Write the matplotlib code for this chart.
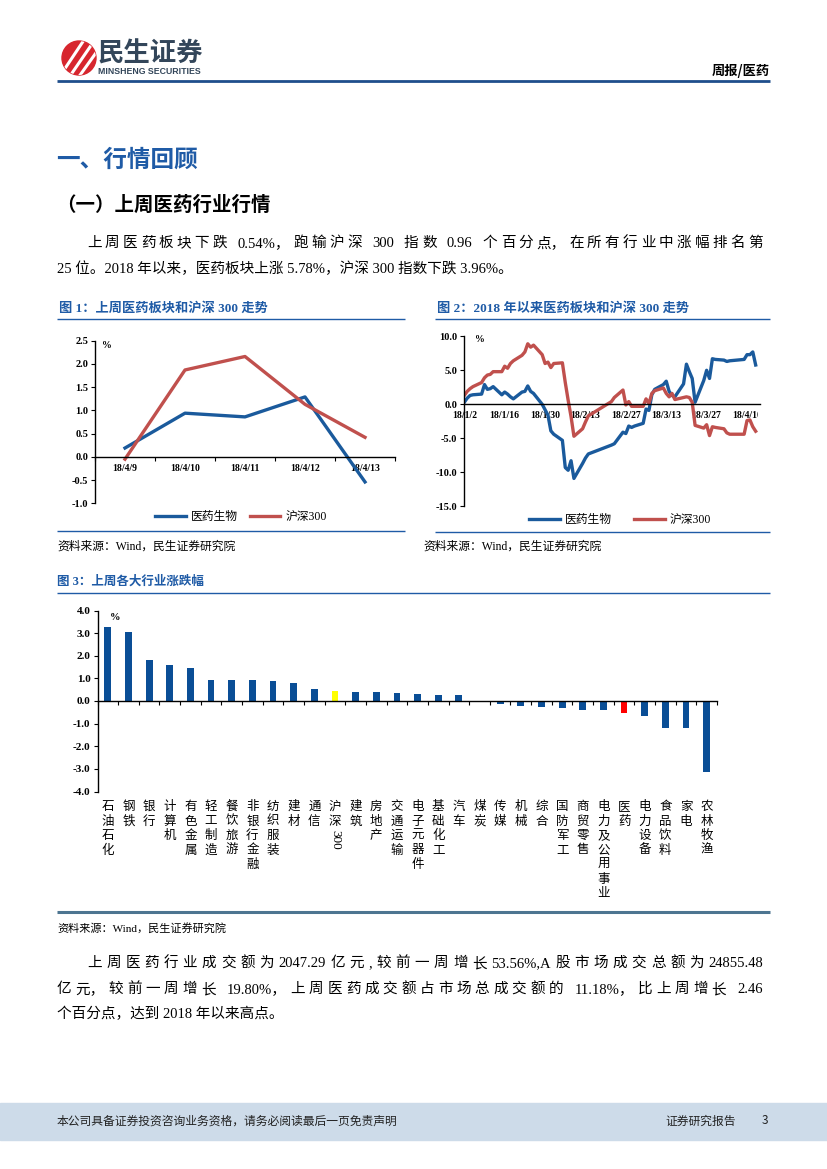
import re
import numpy as np
import pandas as pd
import matplotlib
matplotlib.use('Agg')
import matplotlib.pyplot as plt
import matplotlib.ticker as mticker
from matplotlib.font_manager import FontProperties
from matplotlib.lines import Line2D
from matplotlib.patches import Circle, Rectangle
from matplotlib.transforms import IdentityTransform, Bbox

# ---------------- data ----------------
days1 = ['18/4/9', '18/4/10', '18/4/11', '18/4/12', '18/4/13']
med1 = [0.19, 0.94, 0.86, 1.29, -0.54]
hs1 = [-0.05, 1.87, 2.16, 1.13, 0.42]

dates2 = ['2018-01-02', '2018-01-03', '2018-01-04', '2018-01-05', '2018-01-08', '2018-01-09',
          '2018-01-10', '2018-01-11', '2018-01-12', '2018-01-15', '2018-01-16', '2018-01-17',
          '2018-01-18', '2018-01-19', '2018-01-22', '2018-01-23', '2018-01-24', '2018-01-25',
          '2018-01-26', '2018-01-29', '2018-01-30', '2018-01-31', '2018-02-01', '2018-02-02',
          '2018-02-05', '2018-02-06', '2018-02-07', '2018-02-08', '2018-02-09', '2018-02-12',
          '2018-02-13', '2018-02-14', '2018-02-22', '2018-02-23', '2018-02-26', '2018-02-27',
          '2018-02-28', '2018-03-01', '2018-03-02', '2018-03-05', '2018-03-06', '2018-03-07',
          '2018-03-08', '2018-03-09', '2018-03-12', '2018-03-13', '2018-03-14', '2018-03-15',
          '2018-03-16', '2018-03-19', '2018-03-20', '2018-03-21', '2018-03-22', '2018-03-23',
          '2018-03-26', '2018-03-27', '2018-03-28', '2018-03-29', '2018-03-30', '2018-04-02',
          '2018-04-03', '2018-04-04', '2018-04-09', '2018-04-10', '2018-04-11', '2018-04-12',
          '2018-04-13']
med2 = [0.3, 0.9, 1.3, 1.4, 1.5, 2.9, 2.2, 2.3, 2.6, 1.4, 1.8, 1.5,
        1.1, 0.8, 1.8, 1.9, 2.7, 1.9, 1.6, 0.0, -0.8, -1.6, -3.9, -4.4,
        -5.3, -9.3, -9.7, -8.3, -10.9, -8.7, -7.9, -7.3, -6.0, -5.8, -4.1, -4.3,
        -3.2, -3.4, -3.2, -2.8, -0.7, -0.9, 1.4, 2.2, 2.9, 3.4, 1.9, 1.3,
        1.1, 3.0, 5.9, 4.8, 3.8, 0.3, 3.5, 5.0, 3.8, 6.7, 6.6, 6.5,
        6.3, 6.4, 6.6, 7.3, 7.3, 7.7, 5.78]
hs2 = [1.3, 1.9, 2.3, 2.6, 3.2, 3.9, 4.3, 4.4, 4.8, 4.8, 5.6, 5.3,
       6.0, 6.4, 7.2, 7.7, 8.9, 8.4, 8.7, 7.3, 6.0, 6.2, 5.4, 6.0,
       6.1, 3.2, 0.6, -1.8, -4.7, -3.6, -2.6, -1.7, 0.4, 1.0, 2.1, -0.1,
       0.4, -0.3, -0.3, -0.3, 0.8, 0.1, 1.6, 2.0, 2.4, 1.6, 1.1, 1.6,
       0.7, 1.0, 1.1, 1.0, 0.3, -3.1, -3.5, -3.0, -4.6, -3.3, -3.4, -3.6,
       -4.2, -4.4, -4.4, -2.4, -2.3, -3.3, -3.96]
tick_dates2 = ['2018-01-02', '2018-01-16', '2018-01-30', '2018-02-13', '2018-02-27',
               '2018-03-13', '2018-03-27', '2018-04-10']
tick_labels2 = ['18/1/2', '18/1/16', '18/1/30', '18/2/13', '18/2/27', '18/3/13', '18/3/27', '18/4/10']

cats3 = ['石油石化', '钢铁', '银行', '计算机', '有色金属', '轻工制造', '餐饮旅游', '非银行金融',
         '纺织服装', '建材', '通信', '沪深300', '建筑', '房地产', '交通运输', '电子元器件',
         '基础化工', '汽车', '煤炭', '传媒', '机械', '综合', '国防军工', '商贸零售',
         '电力及公用事业', '医药', '电力设备', '食品饮料', '家电', '农林牧渔']
vals3 = [3.25, 3.03, 1.80, 1.58, 1.48, 0.94, 0.93, 0.92, 0.90, 0.79, 0.51, 0.42,
         0.40, 0.38, 0.37, 0.32, 0.28, 0.28, 0.01, -0.15, -0.22, -0.25, -0.29, -0.40,
         -0.41, -0.54, -0.66, -1.18, -1.19, -3.13]
highlight3 = {'沪深300': '#ffff00', '医药': '#ff0000'}

# ---------------- style ----------------
W, H = 827, 1169
SERIF = ['Liberation Serif', 'Noto Sans CJK SC', 'DejaVu Sans']
SANS = ['Noto Sans CJK SC', 'DejaVu Sans']
plt.rcParams['font.family'] = SERIF
plt.rcParams['axes.unicode_minus'] = False
BLUE = '#1a5a9c'
RED = '#c0504d'
TBLUE = '#1f5ba6'
BARBLUE = '#0a4e96'
BODY = 10.5

fig = plt.figure(figsize=(W / 100, H / 100), dpi=100)
renderer = fig.canvas.get_renderer()


def fx(x):
    return x / W


def fy(y):
    return 1 - y / H


def txt(x, y, s, size, ha='left', va='center', **kw):
    return fig.text(fx(x), fy(y), s, fontsize=size, ha=ha, va=va, **kw)


def hline(x0, x1, y, lw, color):
    fig.add_artist(Line2D([fx(x0), fx(x1)], [fy(y), fy(y)], lw=lw, color=color,
                          transform=fig.transFigure, solid_capstyle='butt'))


def jline(x0, x1, y, s, size, family=SERIF, color='black'):
    prop = FontProperties(family=family, size=size)
    toks = re.findall(r'[A-Za-z0-9.%/,\-]+[，。]?| |.[，。]?', s)
    sp = 0.25 * size * 100 / 72
    ws = []
    for t in toks:
        if t == ' ':
            ws.append(sp)
        else:
            ws.append(renderer.get_text_width_height_descent(t, prop, ismath=False)[0])
    gap = (x1 - x0 - sum(ws)) / (len(toks) - 1)
    x = x0
    for t, w in zip(toks, ws):
        if t != ' ':
            fig.text(fx(x), fy(y + 5), t, fontsize=size, family=family, color=color,
                     ha='left', va='baseline')
        x += w + gap


def bline(x, y, s, size, family=SERIF, color='black'):
    fig.text(fx(x), fy(y + 5), s, fontsize=size, family=family, color=color,
             ha='left', va='baseline')


# ---------------- header ----------------
circ = Circle((79, H - 58), 17, transform=IdentityTransform(), color='#d7262e')
fig.add_artist(circ)
for (xa, ya, xb, yb) in [(64, 70, 84, 40), (70, 76, 92, 44), (78, 78, 98, 50)]:
    ln = Line2D([xa, xb], [H - ya, H - yb], transform=IdentityTransform(), color='white', lw=2.2)
    fig.add_artist(ln)
    ln.set_clip_path(circ)
txt(98, 54, '民生证券', 19, family=SANS, weight='bold', color='#33465a')
txt(98, 72, 'MINSHENG SECURITIES', 6.3, family=['Liberation Sans', 'DejaVu Sans'],
    weight='bold', color='#33465a')
txt(770, 71, '周报/医药', 9.5, ha='right', family=SANS, weight='bold', color='black')
hline(57, 770, 81, 2.0, '#1f4e8c')

# ---------------- headings & paragraph ----------------
txt(56, 160, '一、行情回顾', 17, family=SANS, weight='bold', color=TBLUE)
txt(56, 205, '（一）上周医药行业行情', 14, family=SANS, weight='bold', color='black')
jline(87, 763, 242, '上周医药板块下跌 0.54%，跑输沪深 300 指数 0.96 个百分点，在所有行业中涨幅排名第', BODY)
bline(57, 268, '25 位。2018 年以来，医药板块上涨 5.78%，沪深 300 指数下跌 3.96%。', BODY)

# ---------------- chart titles ----------------
txt(59, 309, '图 1：上周医药板块和沪深 300 走势', 9.5, family=SERIF, weight='bold', color=TBLUE)
hline(57, 405, 319, 1.0, TBLUE)
txt(437, 309, '图 2：2018 年以来医药板块和沪深 300 走势', 9.5, family=SERIF, weight='bold', color=TBLUE)
hline(435, 770, 319, 1.0, TBLUE)

# ---------------- chart 1 ----------------
ax1 = fig.add_axes([fx(95), fy(503.3), (395 - 95) / W, (503.3 - 340.7) / H])
x1 = np.arange(len(days1))
l1, = ax1.plot(x1, med1, color=BLUE, lw=2.4, label='医药生物')
l2, = ax1.plot(x1, hs1, color=RED, lw=2.4, label='沪深300')
ax1.set_xlim(-0.5, len(days1) - 0.5)
ax1.set_ylim(-1.0, 2.5)
ax1.set_yticks(np.arange(-1.0, 2.51, 0.5))
ax1.yaxis.set_major_formatter(mticker.FormatStrFormatter('%.1f'))
ax1.set_xticks(x1)
ax1.set_xticklabels(days1)
ax1.set_xticks(np.arange(-0.5, len(days1), 1), minor=True)
ax1.legend(handles=[l1, l2], loc='center', bbox_to_anchor=(fx(241), fy(517)),
           bbox_transform=fig.transFigure, ncol=2, frameon=False, fontsize=8.5,
           handlelength=2.6, columnspacing=1.0, handletextpad=0.4)
hline(57, 405, 531, 1.0, TBLUE)
txt(57, 547, '资料来源：Wind，民生证券研究院', 8.5, family=SERIF)

# ---------------- chart 2 ----------------
ax2 = fig.add_axes([fx(464.3), fy(506.3), (760 - 464.3) / W, (506.3 - 336.3) / H])
d2 = pd.to_datetime(dates2)
m1, = ax2.plot(d2, med2, color=BLUE, lw=2.4, label='医药生物')
m2, = ax2.plot(d2, hs2, color=RED, lw=2.4, label='沪深300')
start = pd.Timestamp(dates2[0])
ax2.set_xlim(start, start + pd.Timedelta(days=102.5))
ax2.set_ylim(-15, 10)
ax2.set_yticks(np.arange(-15, 10.1, 5))
ax2.yaxis.set_major_formatter(mticker.FormatStrFormatter('%.1f'))
ax2.set_xticks(pd.to_datetime(tick_dates2))
ax2.set_xticklabels(tick_labels2)
ax2.legend(handles=[m1, m2], loc='center', bbox_to_anchor=(fx(620), fy(520)),
           bbox_transform=fig.transFigure, ncol=2, frameon=False, fontsize=8.5,
           handlelength=2.6, columnspacing=1.9, handletextpad=0.4)
hline(435, 770, 532, 1.0, TBLUE)
txt(423, 547, '资料来源：Wind，民生证券研究院', 8.5, family=SERIF)

for ax in (ax1, ax2):
    ax.spines['bottom'].set_position(('data', 0))
    ax.spines[['top', 'right']].set_visible(False)
    ax.spines['left'].set_linewidth(1.0)
    ax.spines['bottom'].set_linewidth(1.0)
    ax.tick_params(axis='y', length=3, width=0.8, pad=2, labelsize=7.5)
    ax.tick_params(axis='x', which='major', length=0, pad=5, labelsize=7)
    ax.tick_params(axis='x', which='minor', length=3, width=0.8)
    for lb in ax.get_yticklabels() + ax.get_xticklabels():
        lb.set_fontweight('bold')
    for t in ax.get_legend().get_texts():
        t.set_family(SERIF)

xl = ax2.get_xticklabels()[-1]
xl.set_clip_box(Bbox([[0, 0], [758, H]]))
xl.set_clip_on(True)

txt(102, 346, '%', 7, family=SERIF, weight='bold')
txt(475, 339, '%', 7, family=SERIF, weight='bold')

# ---------------- chart 3 ----------------
txt(57, 582, '图 3：上周各大行业涨跌幅', 9, family=SERIF, weight='bold', color=TBLUE)
hline(57, 770, 593, 1.0, TBLUE)
ax3 = fig.add_axes([fx(97.5), fy(791.5), (717 - 97.5) / W, (791.5 - 610.5) / H])
xi = np.arange(len(cats3))
cols = [highlight3.get(c, BARBLUE) for c in cats3]
ax3.bar(xi, vals3, width=0.33, color=cols)
ax3.set_xlim(-0.5, len(cats3) - 0.5)
ax3.set_ylim(-4, 4)
ax3.set_yticks(np.arange(-4, 4.1, 1))
ax3.yaxis.set_major_formatter(mticker.FormatStrFormatter('%.1f'))
ax3.set_xticks([])
ax3.set_xticks(np.arange(-0.5, len(cats3), 1), minor=True)
ax3.spines['bottom'].set_position(('data', 0))
ax3.spines[['top', 'right']].set_visible(False)
ax3.spines['left'].set_linewidth(1.0)
ax3.spines['bottom'].set_linewidth(1.0)
ax3.tick_params(axis='y', length=3, width=0.8, pad=2, labelsize=8)
ax3.tick_params(axis='x', which='minor', length=3, width=0.8)
for lb in ax3.get_yticklabels():
    lb.set_fontweight('bold')
txt(110, 617, '%', 7.5, family=SERIF, weight='bold')

trans = ax3.get_xaxis_transform()
axh = 791.5 - 610.5


def ay(ypage):
    return (791.5 - ypage) / axh


for i, c in enumerate(cats3):
    m = re.match(r'([^\d]*)(\d*)', c)
    chars, digits = m.group(1), m.group(2)
    for j, ch in enumerate(chars):
        ax3.text(i, ay(807 + 14.5 * j), ch, transform=trans, ha='center', va='center',
                 fontsize=9, family=SERIF, clip_on=False)
    if digits:
        ytop = 807 + 14.5 * len(chars) - 7
        ax3.text(i, ay(ytop + 11), digits, transform=trans, ha='center', va='center',
                 fontsize=9.5, family=SERIF, rotation=270, clip_on=False)

hline(57, 770, 912, 2.2, '#4d7591')
txt(57, 928, '资料来源：Wind，民生证券研究院', 8, family=SERIF)

# ---------------- paragraph 2 ----------------
jline(87, 763, 962, '上周医药行业成交额为2047.29亿元,较前一周增长53.56%,A股市场成交总额为24855.48', BODY)
jline(57, 763, 988, '亿元，较前一周增长 19.80%，上周医药成交额占市场总成交额的 11.18%，比上周增长 2.46', BODY)
bline(57, 1013, '个百分点，达到 2018 年以来高点。', BODY)

# ---------------- footer ----------------
fig.add_artist(Rectangle((0, fy(1140)), 1, (1140 - 1103) / H, transform=fig.transFigure,
                         color='#cddbe9', zorder=0))
txt(57, 1121, '本公司具备证券投资咨询业务资格，请务必阅读最后一页免责声明', 8.5, family=SANS, color='#222222')
txt(665, 1121, '证券研究报告', 8.5, family=SANS, color='#222222')
txt(762, 1121, '3', 8.5, family=SANS, color='#222222')

fig.savefig('out.png', dpi=100)
